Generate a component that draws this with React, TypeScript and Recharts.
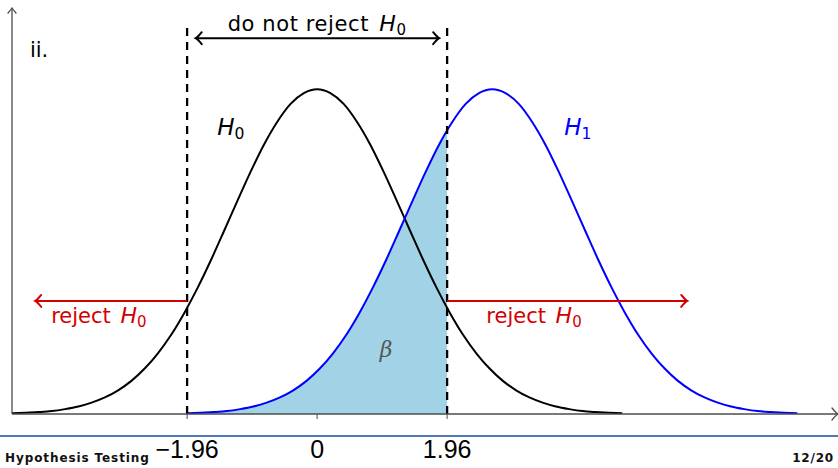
import React from "react";
import {
  ComposedChart,
  Line,
  Area,
  XAxis,
  YAxis,
  ReferenceLine,
  ReferenceDot,
} from "recharts";

// H0 curve, sampled every 0.2 (peak scaled to 100)
const h0X = [
  -4.6, -4.4, -4.2, -4, -3.8, -3.6, -3.4, -3.2, -3, -2.8, -2.6, -2.4, -2.2, -2,
  -1.8, -1.6, -1.4, -1.2, -1, -0.8, -0.6, -0.4, -0.2, 0, 0.2, 0.4, 0.6, 0.8, 1,
  1.2, 1.4, 1.6, 1.8, 2, 2.2, 2.4, 2.6, 2.8, 3, 3.2, 3.4, 3.6, 3.8, 4, 4.2, 4.4,
  4.6,
];
const h0Y = [
  0.2, 0.4, 0.6, 0.9, 1.5, 2.3, 3.5, 5.1, 7.3, 10.2, 14.0, 18.7, 24.4, 31.2,
  38.9, 47.4, 56.5, 65.7, 74.7, 83.0, 90.0, 95.5, 98.8, 100, 98.8, 95.5, 90.0,
  83.0, 74.7, 65.7, 56.5, 47.4, 38.9, 31.2, 24.4, 18.7, 14.0, 10.2, 7.3, 5.1,
  3.5, 2.3, 1.5, 0.9, 0.6, 0.4, 0.2,
];

// H1 curve, shifted to the right
const h1X = [
  -1.96, -1.76, -1.56, -1.36, -1.16, -0.96, -0.76, -0.56, -0.36, -0.16, 0.04,
  0.24, 0.44, 0.64, 0.84, 1.04, 1.24, 1.44, 1.64, 1.84, 2.04, 2.24, 2.44, 2.64,
  2.84, 3.04, 3.24, 3.44, 3.64, 3.84, 4.04, 4.24, 4.44, 4.64, 4.84, 5.04, 5.24,
  5.44, 5.64, 5.84, 6.04, 6.24, 6.44, 6.64, 6.84, 7.04, 7.24,
];
const h1Y = [
  0.2, 0.4, 0.6, 0.9, 1.5, 2.3, 3.5, 5.1, 7.3, 10.2, 14.0, 18.7, 24.4, 31.2,
  38.9, 47.4, 56.5, 65.7, 74.7, 83.0, 90.0, 95.5, 98.8, 100, 98.8, 95.5, 90.0,
  83.0, 74.7, 65.7, 56.5, 47.4, 38.9, 31.2, 24.4, 18.7, 14.0, 10.2, 7.3, 5.1,
  3.5, 2.3, 1.5, 0.9, 0.6, 0.4, 0.2,
];

const critical = 1.96;
const h1AtCritical = 87.4;

const tickValues = [-1.96, 0, 1.96];
const tickLabels = ["\u22121.96", "0", "1.96"];

const h0Data = h0X.map((x, i) => ({ x, y: h0Y[i] }));
const h1Data = h1X.map((x, i) => ({ x, y: h1Y[i] }));
const betaData = h1Data
  .filter((p) => p.x < critical)
  .concat([{ x: critical, y: h1AtCritical }]);

const X_MIN = -4.6;
const X_MAX = 7.853;
const Y_MAX = 125;

const AXIS = "#4d4d4d";
const RED = "#d20000";
const BLUE = "#0000ff";
const FONT = "'DejaVu Sans', sans-serif";

const arrowHead = (dir: "left" | "right" | "up", color: string, w = 2) =>
  (p: any) => {
    const { cx, cy } = p;
    let d = "";
    if (dir === "right")
      d = `M${cx - 6},${cy - 6} Q${cx - 2},${cy - 1} ${cx},${cy} Q${cx - 2},${cy + 1} ${cx - 6},${cy + 6}`;
    else if (dir === "left")
      d = `M${cx + 6},${cy - 6} Q${cx + 2},${cy - 1} ${cx},${cy} Q${cx + 2},${cy + 1} ${cx + 6},${cy + 6}`;
    else
      d = `M${cx - 4},${cy + 5} Q${cx - 1},${cy + 1.5} ${cx},${cy} Q${cx + 1},${cy + 1.5} ${cx + 4},${cy + 5}`;
    return (
      <path d={d} fill="none" stroke={color} strokeWidth={w} strokeLinecap="round" />
    );
  };

const hLabel = (sub: string, color: string, size = 23) => (p: any) => (
  <text x={p.cx} y={p.cy} textAnchor="middle" fontFamily={FONT} fill={color}>
    <tspan fontStyle="italic" fontSize={size}>H</tspan>
    <tspan fontSize={size * 0.68} dy={4}>{sub}</tspan>
  </text>
);

const rejectLabel = (p: any) => (
  <text x={p.cx} y={p.cy} textAnchor="middle" fontFamily={FONT} fill={RED} fontSize={21}>
    <tspan>reject </tspan>
    <tspan fontStyle="italic" fontSize={22} dx={3}>H</tspan>
    <tspan fontSize={15} dy={4}>0</tspan>
  </text>
);

const keepLabel = (p: any) => (
  <text
    x={p.cx}
    y={p.cy}
    textAnchor="middle"
    fontFamily={FONT}
    fill="#000"
    fontSize={21}
    letterSpacing={0.6}
  >
    <tspan>do not reject </tspan>
    <tspan fontStyle="italic" fontSize={22} dx={3}>H</tspan>
    <tspan fontSize={15} dy={4}>0</tspan>
  </text>
);

const partLabel = (p: any) => (
  <text x={p.cx} y={p.cy} fontFamily={FONT} fill="#000" fontSize={21}>
    ii.
  </text>
);

const betaLabel = (p: any) => (
  <text
    x={p.cx}
    y={p.cy}
    textAnchor="middle"
    fontFamily="'DejaVu Serif', serif"
    fontStyle="italic"
    fontSize={22}
    fill="#555"
  >
    β
  </text>
);

const Tick = ({ x, payload, index }: any) => (
  <text
    x={x}
    y={458}
    textAnchor="middle"
    fontFamily="'Liberation Sans', sans-serif"
    fontSize={25}
    fill="#000"
  >
    {tickLabels[index] ?? String(payload.value)}
  </text>
);

export default function App() {
  return (
    <div style={{ position: "relative", width: 838, height: 468, background: "#fff" }}>
      <style>{"body{margin:0}"}</style>
      <ComposedChart
        width={838}
        height={468}
        margin={{ top: 8, right: 0, bottom: 0, left: 12 }}
      >
        <XAxis
          dataKey="x"
          type="number"
          domain={[X_MIN, X_MAX]}
          allowDataOverflow
          ticks={tickValues}
          interval={0}
          height={54}
          axisLine={{ stroke: AXIS, strokeWidth: 1.3 }}
          tickLine={{ stroke: AXIS, strokeWidth: 1 }}
          tickSize={5}
          tick={<Tick />}
        />
        <YAxis type="number" domain={[0, Y_MAX]} hide allowDataOverflow />

        <Area
          data={betaData}
          dataKey="y"
          type="monotone"
          stroke="none"
          fill="#a2d2e5"
          fillOpacity={1}
          isAnimationActive={false}
        />
        <Line
          data={h0Data}
          dataKey="y"
          type="monotone"
          stroke="#000"
          strokeWidth={2}
          dot={false}
          isAnimationActive={false}
        />
        <Line
          data={h1Data}
          dataKey="y"
          type="monotone"
          stroke={BLUE}
          strokeWidth={2}
          dot={false}
          isAnimationActive={false}
        />

        {/* y axis */}
        <ReferenceLine
          segment={[{ x: X_MIN, y: 0 }, { x: X_MIN, y: Y_MAX }]}
          stroke={AXIS}
          strokeWidth={1.3}
          ifOverflow="visible"
        />
        <ReferenceDot x={X_MIN} y={Y_MAX} ifOverflow="visible" shape={arrowHead("up", AXIS, 1.3)} />
        <ReferenceDot x={X_MAX} y={0} ifOverflow="visible" shape={arrowHead("right", AXIS, 1.3)} />

        {/* critical values */}
        {[-critical, critical].map((c) => (
          <ReferenceLine
            key={c}
            segment={[{ x: c, y: 0 }, { x: c, y: 120.6 }]}
            stroke="#000"
            strokeWidth={2.3}
            strokeDasharray="8 6"
            ifOverflow="visible"
          />
        ))}

        {/* do not reject */}
        <ReferenceLine
          segment={[{ x: -1.83, y: 115.7 }, { x: 1.84, y: 115.7 }]}
          stroke="#000"
          strokeWidth={2}
          ifOverflow="visible"
        />
        <ReferenceDot x={-1.83} y={115.7} ifOverflow="visible" shape={arrowHead("left", "#000")} />
        <ReferenceDot x={1.84} y={115.7} ifOverflow="visible" shape={arrowHead("right", "#000")} />
        <ReferenceDot x={0} y={117.9} ifOverflow="visible" shape={keepLabel} />

        {/* reject regions */}
        <ReferenceLine
          segment={[{ x: -4.25, y: 34.8 }, { x: -critical, y: 34.8 }]}
          stroke={RED}
          strokeWidth={2}
          ifOverflow="visible"
        />
        <ReferenceDot x={-4.25} y={34.8} ifOverflow="visible" shape={arrowHead("left", RED)} />
        <ReferenceLine
          segment={[{ x: critical, y: 34.8 }, { x: 5.58, y: 34.8 }]}
          stroke={RED}
          strokeWidth={2}
          ifOverflow="visible"
        />
        <ReferenceDot x={5.58} y={34.8} ifOverflow="visible" shape={arrowHead("right", RED)} />
        <ReferenceDot x={-3.29} y={28} ifOverflow="visible" shape={rejectLabel} />
        <ReferenceDot x={3.27} y={28} ifOverflow="visible" shape={rejectLabel} />

        <ReferenceDot x={-1.3} y={85.8} ifOverflow="visible" shape={hLabel("0", "#000")} />
        <ReferenceDot x={3.93} y={85.8} ifOverflow="visible" shape={hLabel("1", BLUE)} />
        <ReferenceDot x={1.04} y={17.5} ifOverflow="visible" shape={betaLabel} />
        <ReferenceDot x={-4.33} y={109.8} ifOverflow="visible" shape={partLabel} />
      </ComposedChart>

      <div
        style={{
          position: "absolute",
          left: 0,
          top: 435,
          width: 838,
          height: 2,
          background: "#4f78b8",
        }}
      />
      <div
        style={{
          position: "absolute",
          left: 5,
          top: 450,
          fontFamily: FONT,
          fontWeight: "bold",
          fontSize: 12,
          letterSpacing: 0.9,
          color: "#111",
          lineHeight: "16px",
        }}
      >
        Hypothesis Testing
      </div>
      <div
        style={{
          position: "absolute",
          right: 4,
          top: 450,
          fontFamily: FONT,
          fontWeight: "bold",
          fontSize: 12,
          letterSpacing: 0.8,
          color: "#111",
          lineHeight: "16px",
        }}
      >
        12/20
      </div>
    </div>
  );
}
